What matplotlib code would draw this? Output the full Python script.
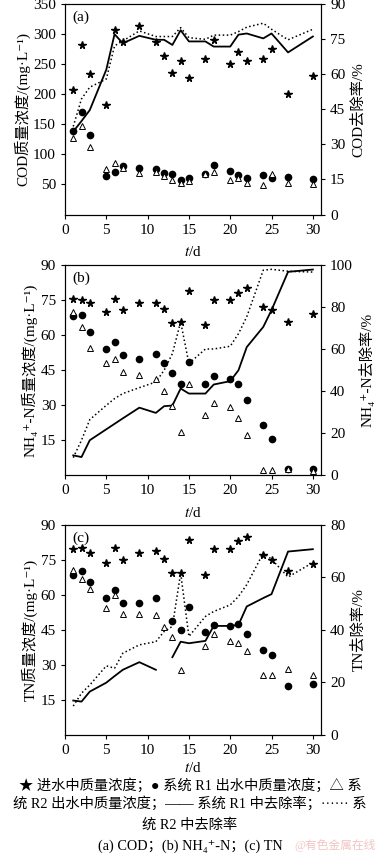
#coding:utf-8

import numpy as np
import matplotlib.pyplot as plt

plt.rcParams['font.family'] = ['Liberation Serif', 'Noto Sans CJK SC', 'DejaVu Sans']
plt.rcParams['mathtext.fontset'] = 'stix'

nan = np.nan
days = [1, 2, 3, 5, 6, 7, 9, 11, 12, 13, 14, 15, 17, 18, 20, 21, 22, 24, 25, 27, 30]

# (a) COD
cod_in = [208, 283, 234, 182, 307, 288, 314, 288, 264, 235, 256, 227, 259, 290, 250, 271, 255, 259, 275, 200, 231]
cod_r1 = [139, 170, 132, 64, 71, 80, 77, 76, 69, 67, 58, 61, 67, 83, 72, 66, 61, 66, 61, 63, 59]
cod_r2 = [127, 148, 112, 75, 85, 78, 69, 71, 64, 58, 52, 55, 67, 70, 58, 61, 52, 49, 67, 53, 50]
cod_rm1 = [35.5, 40, 44.7, 62, 77.2, 73.3, 76.5, 74.8, 74.8, 72.6, 78.9, 74.1, 74.1, 71.9, 71.9, 77.0, 77.5, 75.4, 77.5, 69.4, 76.2]
cod_rm2 = [37.7, 49.5, 54.5, 58, 72.2, 74.3, 78.6, 76.2, 76.2, 76.2, 80, 75.7, 75, 76.8, 76.8, 78.3, 80.2, 81.9, 79.3, 74.8, 79.3]

# (b) NH4+-N
nh_in = [75.3, 74.9, 73.6, 70, 75.7, 70.6, 73.9, 73.9, 71.3, 65.4, 65.6, 79.1, 64.3, 74.9, 74.9, 78.1, 80, 71.9, 70.7, 65.6, 68.9]
nh_r1 = [68.1, 68.7, 61.4, 54.1, 56.9, 51.4, 49.9, 52.1, 48, 43.7, 39, 48.6, 39.3, 42.6, 41.3, 39, 32.4, 21.6, 15.7, 2.7, 2.6]
nh_r2 = [69.9, 63.3, 54.7, 47.9, 49.6, 44.3, 42.9, 41.4, 36.1, 29.6, 18.6, 39, 26, 30.9, 29.3, 24.6, 17.1, 2.1, 2.1, 2.9, 1.7]
nh_rm1 = [9.5, 8.7, 16.7, 21.9, 24.5, 27.1, 32.2, 29.7, 32.9, 33.2, 41.3, 38.9, 38.9, 43.2, 44.8, 50, 61, 70.6, 78.6, 96.8, 97.9]
nh_rm2 = [8.4, 16.7, 26.5, 33.3, 36.5, 38.9, 41.7, 44.4, 50, 57.9, 73, 53.2, 60.1, 60.1, 61.4, 67.4, 75.4, 97.6, 98, 97.1, 96.7]

# (c) TN
tn_in = [79.5, 79.9, 77.9, 73.6, 80, 75.1, 77.9, 78.6, 75.5, 69.5, 69.2, 83.3, 68.7, 79.5, 79.5, 82.9, 84.6, 77.2, 74.8, 70.1, 73.4]
tn_r1 = [68.5, 70.1, 65.3, 58.8, 62, 56.3, 56.3, 58.8, nan, 48.7, 44.9, 54.8, 44, 46.9, 46.6, 47.3, 43.2, 36.3, 34.3, 21.1, 21.7]
tn_r2 = [70.5, 66.8, 62.5, 54.5, 59.8, 51.8, 51.6, 51.3, 46.3, 42, 27.8, nan, 38.3, 43.2, 40.3, 39.2, 36, 25.6, 25.6, 28.2, 25.6]
tn_rm1 = [13.1, 12.7, 16.5, 19.9, 22.4, 24.8, 27.7, 24.8, nan, 29.6, 35.5, 34.9, 35.8, 41.5, 41.5, 41.9, 48.9, 52.1, 53.6, 69.8, 70.7]
tn_rm2 = [11, 15.9, 19, 26.3, 25.4, 31.1, 34.3, 35.5, 39.4, 41.3, 61.6, 37.5, 45.1, 47, 49.5, 52.7, 57.2, 69.2, 66.9, 60.1, 65.6]

panels = [
    ('(a)', cod_in, cod_r1, cod_r2, cod_rm1, cod_rm2,
     'COD质量浓度/(mg·L⁻¹)', 'COD去除率/%', 350, 50, 90, 15),
    ('(b)', nh_in, nh_r1, nh_r2, nh_rm1, nh_rm2,
     'NH₄⁺-N质量浓度/(mg·L⁻¹)', 'NH₄⁺-N去除率/%', 90, 15, 100, 20),
    ('(c)', tn_in, tn_r1, tn_r2, tn_rm1, tn_rm2,
     'TN质量浓度/(mg·L⁻¹)', 'TN去除率/%', 90, 15, 80, 20),
]
bottoms = [0.750, 0.446, 0.1434]
xpads = [6, 6, 3]

fig = plt.figure(figsize=(3.8, 8.58), dpi=100)

for i, p in enumerate(panels):
    tag, cin, r1, r2, rm1, rm2, ylab, ylab2, ymax, ystep, y2max, y2step = p
    ax = fig.add_axes([0.171, bottoms[i], 0.674, 0.245])
    ax2 = ax.twinx()
    ax.plot(days, cin, ls='none', marker='*', ms=5.5, color='k')
    ax.plot(days, r1, ls='none', marker='o', ms=4.5, color='k')
    ax.plot(days, r2, ls='none', marker='^', ms=4, mfc='white', mec='k', mew=0.7)
    ax2.plot(days, rm1, '-', color='k', lw=1.3)
    ax2.plot(days, rm2, ':', color='k', lw=1.1)
    ax.set_zorder(ax2.get_zorder() + 1)
    ax.patch.set_visible(False)

    ax.set_xlim(0, 31)
    ax.set_ylim(0, ymax)
    ax2.set_ylim(0, y2max)
    ax.set_xticks(range(0, 31, 5))
    ax.set_yticks(np.arange(ystep, ymax + 1, ystep))
    ax2.set_yticks(np.arange(0, y2max + 1, y2step))
    for a in (ax, ax2):
        a.tick_params(labelsize=11, length=3, width=0.8)
        for s in a.spines.values():
            s.set_linewidth(0.8)
    ax.set_ylabel(ylab, fontsize=11, labelpad=2)
    ax2.set_ylabel(ylab2, fontsize=11, labelpad=4)
    ax.set_xlabel('$t$/d', fontsize=11, labelpad=xpads[i])
    ax.text(0.03, 0.97, tag, transform=ax.transAxes, fontsize=11, va='top', ha='left')

# 图例说明
fig.text(0.5, 1 - 785 / 858, '★ 进水中质量浓度；● 系统 R1 出水中质量浓度；△ 系',
         ha='center', va='center', fontsize=10.3)
fig.text(0.5, 1 - 803 / 858, '统 R2 出水中质量浓度；—— 系统 R1 中去除率；······ 系',
         ha='center', va='center', fontsize=10.3)
fig.text(0.5, 1 - 825 / 858, '统 R2 中去除率', ha='center', va='center', fontsize=10.3)
fig.text(0.5, 1 - 846 / 858, '(a) COD；(b) NH₄⁺-N；(c) TN', ha='center', va='center', fontsize=10.3)
fig.text(0.99, 1 - 846 / 858, '@有色金属在线', ha='right', va='center', fontsize=8.5, color='#f2c4c4')

plt.savefig('out.png', dpi=100)
